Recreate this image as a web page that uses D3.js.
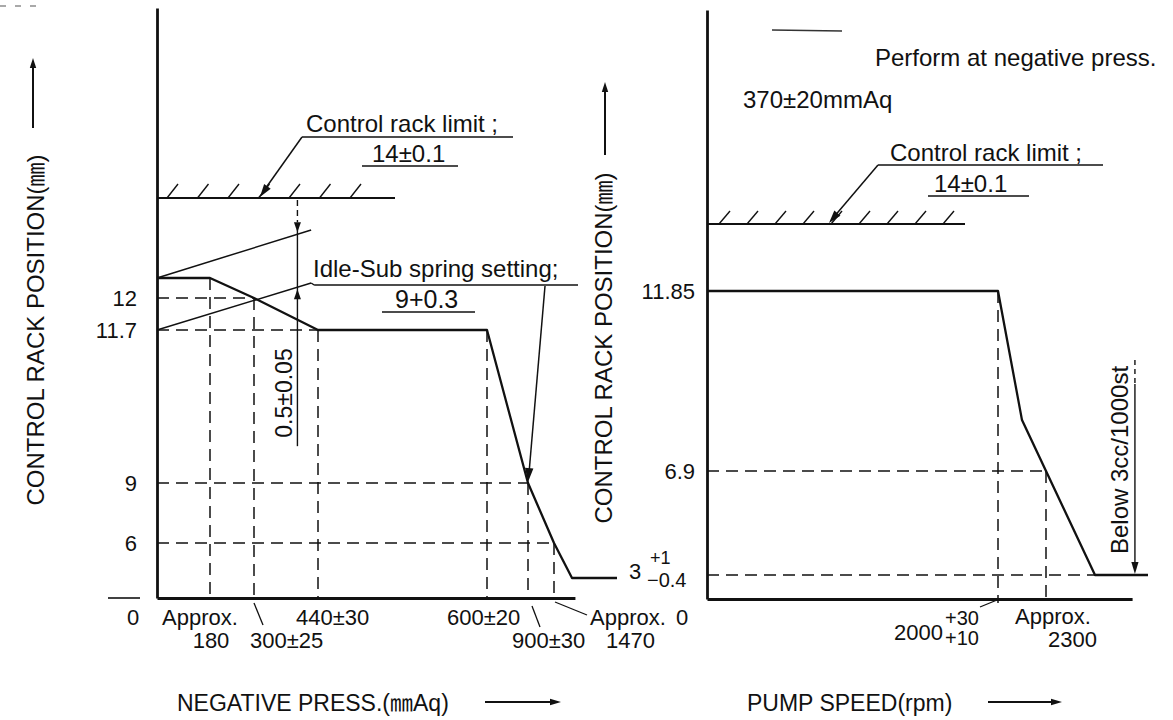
<!DOCTYPE html>
<html><head><meta charset="utf-8">
<script src="https://cdn.jsdelivr.net/npm/d3@7"></script>
<style>
html,body{margin:0;padding:0;background:#fff;}
svg{display:block;font-family:"Liberation Sans",Arial,"Noto Sans CJK JP",sans-serif;}
</style></head><body>
<svg id="c" width="1173" height="720"></svg>
<script>
// ---------------- data ----------------
// Left chart: control rack position (mm) vs negative pressure (mmAq)
const leftYTicks = [6, 9, 11.7, 12];
const leftYTickLabels = ["6", "9", "11.7", "12"];
const leftXTicks = [0, 180, 300, 440, 600, 900, 1470];
const leftXTickLabels = [["0"], ["Approx.", "180"], ["300±25"], ["440±30"], ["600±20"], ["900±30"], ["Approx.", "1470"]];
const pressCurve = [0, 180, 300, 440, 600, 900, 1470, 1570, 1800];
const rackCurveL = [12.4, 12.4, 12, 11.7, 11.7, 9, 6, 3, 3];
const springUpperPress = [0, 425];
const springUpperRack = [12.4, 13.36];
const springLowerPress = [0, 425];
const springLowerRack = [11.7, 12.3];
const leftHGuideRack = [12, 11.7, 9, 6];
const leftHGuidePress = [300, 440, 900, 1470];
const leftVGuidePress = [180, 300, 440, 600, 900, 1470];
const leftVGuideRack = [12.4, 12, 11.7, 11.7, 9, 6];
const rackLimit = 14;
const dimPress = 395;
const dimBottomRack = 9.65;

// Right chart: control rack position (mm) vs pump speed (rpm)
const rightYTicks = [6.9, 11.85];
const rightYTickLabels = ["6.9", "11.85"];
const speedCurve = [0, 2000, 2150, 2300, 2600, 2900];
const rackCurveR = [11.85, 11.85, 8.3, 6.9, 3, 3];
const rightHGuideRack = [6.9, 3];
const rightHGuideSpeed = [2300, 2600];
const rightVGuideSpeed = [2000, 2300];
const rightVGuideRack = [11.85, 6.9];
const belowSpeed = 2826;

// ---------------- scales (schematic, piecewise) ----------------
const xL = d3.scaleLinear().domain([0, 180, 300, 440, 600, 900, 1470, 1570, 1800])
  .range([157, 210, 254, 318, 487, 528, 554, 572, 617]);
const yL = d3.scaleLinear().domain([0, 3, 6, 9, 11.7, 12, 14, 18])
  .range([598, 578, 543, 483, 330, 298, 198, 8]);
const xR = d3.scaleLinear().domain([0, 2000, 2300, 2600, 2900])
  .range([707, 998, 1046, 1095, 1148]);
const yR = d3.scaleLinear().domain([0, 3, 6.9, 11.85, 14, 18])
  .range([599, 575, 471, 291, 224, 10]);
const leftXEnd = 1585, rightXEnd = 2810;

const svg = d3.select("#c");
const INK = "#111";
svg.append("rect").attr("width", 1173).attr("height", 720).attr("fill", "#fff");

function txt(x, y, s, size, anchor, extra) {
  const t = svg.append("text").attr("x", x).attr("y", y).text(s)
    .attr("font-size", size).attr("fill", INK).attr("text-anchor", anchor || "start");
  if (extra) extra(t);
  return t;
}
function seg(x1, y1, x2, y2, w, dash) {
  const l = svg.append("line").attr("x1", x1).attr("y1", y1).attr("x2", x2).attr("y2", y2)
    .attr("stroke", INK).attr("stroke-width", w || 1.4);
  if (dash) l.attr("stroke-dasharray", dash);
  return l;
}
function arrowHead(x1, y1, x2, y2, len, hw) {
  len = len || 12; hw = hw || 3.6;
  const a = Math.atan2(y2 - y1, x2 - x1);
  const bx = x2 - len * Math.cos(a), by = y2 - len * Math.sin(a);
  const px = -Math.sin(a) * hw, py = Math.cos(a) * hw;
  svg.append("path").attr("d", `M${x2},${y2}L${bx + px},${by + py}L${bx - px},${by - py}Z`).attr("fill", INK);
}
const DASH = "12,7";
const line = (xs, ys) => d3.line().x(d => xs(d[0])).y(d => ys(d[1]));

// ---------------- LEFT CHART ----------------
leftHGuideRack.forEach((r, i) => seg(xL(0), yL(r), xL(leftHGuidePress[i]), yL(r), 1.5, DASH));
leftVGuidePress.forEach((p, i) => seg(xL(p), yL(leftVGuideRack[i]), xL(p), p === 900 ? yL(-0.25) : yL(0), 1.5, DASH));

const gLy = svg.append("g").attr("transform", `translate(${xL(0)},0)`)
  .call(d3.axisLeft(yL).tickValues(leftYTicks).tickFormat((d, i) => leftYTickLabels[i]).tickSize(0).tickSizeOuter(0).tickPadding(20));
const gLx = svg.append("g").attr("transform", `translate(0,${yL(0)})`)
  .call(d3.axisBottom(xL.copy().domain([0, leftXEnd]).range([xL(0), xL(leftXEnd)])).tickValues([]).tickSizeOuter(0));
[gLy, gLx].forEach(g => {
  g.attr("font-family", null).attr("font-size", 22);
  g.select(".domain").attr("stroke", INK).attr("stroke-width", 2.8);
  g.selectAll("text").attr("fill", INK);
});
seg(108, yL(0), 140, yL(0), 1.6);

seg(xL(0), yL(rackLimit), 395, yL(rackLimit), 1.8);
d3.range(7).forEach(i => { const hx = 167 + i * 30.5; seg(hx, yL(rackLimit), hx + 11, yL(rackLimit) - 14, 1.4); });

const upperPts = springUpperPress.map((p, i) => [p, springUpperRack[i]]);
const lowerPts = springLowerPress.map((p, i) => [p, springLowerRack[i]]);
svg.append("path").attr("d", line(xL, yL)(upperPts)).attr("fill", "none").attr("stroke", INK).attr("stroke-width", 1.5);
svg.append("path").attr("d", line(xL, yL)(lowerPts)).attr("fill", "none").attr("stroke", INK).attr("stroke-width", 1.5);

svg.append("path").attr("d", line(xL, yL)(pressCurve.map((p, i) => [p, rackCurveL[i]])))
  .attr("fill", "none").attr("stroke", INK).attr("stroke-width", 2.3).attr("stroke-linejoin", "round");

function interpY(pts, xs, ys, px) {
  const x0 = xs(pts[0][0]), y0 = ys(pts[0][1]), x1 = xs(pts[1][0]), y1 = ys(pts[1][1]);
  return y0 + (px - x0) / (x1 - x0) * (y1 - y0);
}
const dX = xL(dimPress);
const upTip = interpY(upperPts, xL, yL, dX), loTip = interpY(lowerPts, xL, yL, dX);
seg(dX, yL(rackLimit) + 2, dX, upTip - 12, 1.4, "6,4");
seg(dX, upTip - 10, dX, yL(dimBottomRack), 1.4);
arrowHead(dX, upTip - 24, dX, upTip - 2, 10, 3.5);
arrowHead(dX, loTip + 20, dX, loTip + 2, 10, 3.5);
txt(0, 0, "0.5±0.05", 23, "middle", t => t.attr("transform", `translate(${dX - 5},393) rotate(-90)`));

txt(306, 132, "Control rack limit ;", 24);
seg(302, 137, 513, 137, 1.6);
txt(372, 162, "14±0.1", 24);
seg(362, 166, 458, 166, 1.6);
seg(302, 137, xL(313) + 3, yL(rackLimit) - 6, 1.5);
arrowHead(302, 137, xL(313), yL(rackLimit) - 1, 13, 4);

txt(313, 277, "Idle-Sub spring setting;", 24);
seg(xL(springLowerPress[1]), yL(springLowerRack[1]), xL(springLowerPress[1]) + 3, 285, 1.5);
seg(xL(springLowerPress[1]) + 3, 285, 578, 285, 1.6);
txt(395, 308, "9+0.3", 25);
seg(382, 312, 475, 312, 1.6);
seg(545, 286, xL(900) + 1, yL(9) - 10, 1.5);
arrowHead(545, 286, xL(900), yL(9) - 1, 14, 4.2);

const row1 = 625, row2 = 648;
const lxLayout = [
  [[-30, row1, "start"]],
  [[-48, row1, "start"], [1, row2, "middle"]],
  [[-4, row2, "start"]],
  [[-22, row1, "start"]],
  [[-40, row1, "start"]],
  [[-16, row2, "start"]],
  [[36, row1, "start"], [52, row2, "start"]]
];
leftXTicks.forEach((v, i) => {
  leftXTickLabels[i].forEach((s, j) => {
    const L = lxLayout[i][j];
    txt(xL(v) + L[0], L[1], s, 22, L[2]);
  });
});
seg(xL(300), 603, xL(300) + 9, 625, 1.3);
seg(xL(900) + 4, 606, xL(900) + 12, 627, 1.3);
seg(xL(1470) + 1, 602, xL(1470) + 33, 615, 1.3);

txt(0, 0, "CONTROL RACK POSITION(㎜)", 24, "middle", t => t.attr("transform", "translate(44,330) rotate(-90)"));
seg(33, 128, 33, 64, 2);
arrowHead(33, 128, 33, 58, 10, 3.2);
txt(177, 711, "NEGATIVE PRESS.(㎜Aq)", 23);
seg(485, 702, 552, 702, 2);
arrowHead(485, 702, 561, 702, 11, 3.2);

// ---------------- RIGHT CHART ----------------
rightHGuideRack.forEach((r, i) => seg(xR(0), yR(r), xR(rightHGuideSpeed[i]), yR(r), 1.5, DASH));
rightVGuideSpeed.forEach((s, i) => seg(xR(s), yR(rightVGuideRack[i]), xR(s), s === 2000 ? yR(-0.5) : yR(0), 1.5, DASH));

const gRy = svg.append("g").attr("transform", `translate(${xR(0)},0)`)
  .call(d3.axisLeft(yR).tickValues(rightYTicks).tickFormat((d, i) => rightYTickLabels[i]).tickSize(0).tickSizeOuter(0).tickPadding(12));
const gRx = svg.append("g").attr("transform", `translate(0,${yR(0)})`)
  .call(d3.axisBottom(xR.copy().domain([0, rightXEnd]).range([xR(0), xR(rightXEnd)])).tickValues([]).tickSizeOuter(0));
[gRy, gRx].forEach(g => {
  g.attr("font-family", null).attr("font-size", 22);
  g.select(".domain").attr("stroke", INK).attr("stroke-width", 2.8);
  g.selectAll("text").attr("fill", INK);
});
txt(629, 579, "3", 22);
txt(650, 564, "+1", 18);
txt(647, 587, "−0.4", 20);

seg(xR(0), yR(rackLimit), 965, yR(rackLimit), 1.8);
d3.range(9).forEach(i => { const hx = 719 + i * 28; seg(hx, yR(rackLimit), hx + 11, yR(rackLimit) - 13, 1.4); });

svg.append("path").attr("d", line(xR, yR)(speedCurve.map((s, i) => [s, rackCurveR[i]])))
  .attr("fill", "none").attr("stroke", INK).attr("stroke-width", 2.3).attr("stroke-linejoin", "round");

txt(875, 66, "Perform at negative press.", 24);
txt(743, 108, "370±20mmAq", 24);
txt(890, 161, "Control rack limit ;", 24);
seg(878, 165, 1103, 165, 1.6);
txt(934, 192, "14±0.1", 24);
seg(928, 196, 1029, 196, 1.6);
seg(878, 165, 833, yR(rackLimit) - 6, 1.5);
arrowHead(878, 165, 829, yR(rackLimit) - 1, 13, 4);

const bx = xR(belowSpeed);
txt(0, 0, "Below 3cc/1000st", 24, "middle", t => t.attr("transform", `translate(${bx - 7},460) rotate(-90)`));
seg(bx, 360, bx, 384, 1.4, "5,4");
seg(bx, 384, bx, yR(3) - 8, 1.4);
arrowHead(bx, 540, bx, yR(3) - 1, 12, 3.6);

txt(xR(0) - 31, row1, "0", 22);
txt(894, 640, "2000", 22);
txt(945, 625, "+30", 20);
txt(945, 645, "+10", 20);
seg(980, 607, xR(2000) - 1, 600, 1.3);
txt(xR(2300) - 31, 624, "Approx.", 22);
txt(xR(2300) + 51, 647, "2300", 22, "end");

txt(0, 0, "CONTROL RACK POSITION(㎜)", 24, "middle", t => t.attr("transform", "translate(612,348) rotate(-90)"));
seg(605, 155, 605, 88, 2);
arrowHead(605, 155, 605, 82, 10, 3.2);
txt(747, 711, "PUMP SPEED(rpm)", 23);
seg(988, 702, 1052, 702, 2);
arrowHead(988, 702, 1062, 702, 11, 3.2);

seg(772, 30, 842, 31, 1.3).attr("stroke", "#333");
seg(0, 6, 40, 6, 1.2, "6,9").attr("stroke", "#555");
</script>
</body></html>
